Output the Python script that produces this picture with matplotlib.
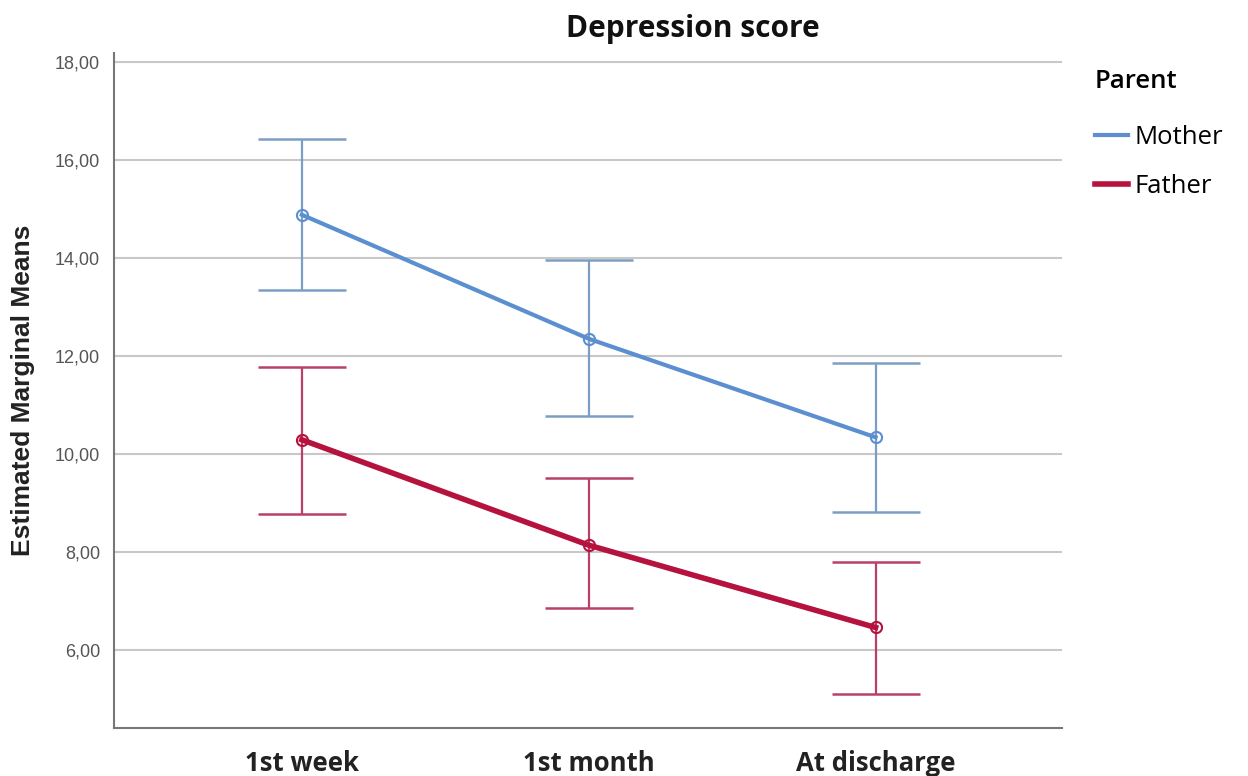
import matplotlib
matplotlib.use("Agg")
import matplotlib.pyplot as plt
import numpy as np
from matplotlib.lines import Line2D

categories = ["1st week", "1st month", "At discharge"]
mother_mean = [14.88, 12.35, 10.34]
mother_low = [13.35, 10.77, 8.82]
mother_high = [16.43, 13.96, 11.86]
father_mean = [10.29, 8.14, 6.46]
father_low = [8.78, 6.85, 5.10]
father_high = [11.78, 9.50, 7.80]
yticks = [6, 8, 10, 12, 14, 16, 18]

fig = plt.figure(figsize=(12.48, 7.76), dpi=100)
ax = fig.add_axes([0.0913, 0.0619, 0.7597, 0.8698])

x = np.arange(len(categories))

mother_line = "#5b8fd0"
mother_err = "#7d9ec4"
father_line = "#b5123e"
father_err = "#b8406a"

for mean, lo, hi, lc, ec, lw in [
    (mother_mean, mother_low, mother_high, mother_line, mother_err, 3.0),
    (father_mean, father_low, father_high, father_line, father_err, 4.0),
]:
    mean = np.array(mean); lo = np.array(lo); hi = np.array(hi)
    ax.errorbar(x, mean, yerr=[mean - lo, hi - mean], fmt="none", ecolor=ec,
                elinewidth=1.6, capsize=32, capthick=1.8, zorder=3)
    ax.plot(x, mean, color=lc, lw=lw, zorder=4, marker="o", markersize=8,
            markerfacecolor="none", markeredgecolor=lc, markeredgewidth=1.5)

ax.set_xlim(-0.655, 2.65)
ax.set_ylim(4.41, 18.18)
ax.set_yticks(yticks)
ax.set_yticklabels([f"{v:.2f}".replace(".", ",") for v in yticks],
                   fontsize=13, color="#555555", family="Liberation Sans")
ax.set_xticks(x)
ax.set_xticklabels(categories, fontsize=18.5, fontweight="bold", family="Open Sans", color="#222222")
ax.tick_params(axis="x", length=0, pad=16)
ax.tick_params(axis="y", length=0, pad=10)

ax.grid(axis="y", color="#c8c8c8", lw=1.5, zorder=0)
ax.set_axisbelow(True)
for s in ["top", "right"]:
    ax.spines[s].set_visible(False)
for s in ["left", "bottom"]:
    ax.spines[s].set_color("#777777")
    ax.spines[s].set_linewidth(1.5)

ax.set_ylabel("Estimated Marginal Means", fontsize=19, fontweight="bold",
              family="Liberation Sans", color="#222222", labelpad=14)

fig.text(0.555, 0.963, "Depression score", ha="center", va="center",
         fontsize=21.5, fontweight="bold", family="Open Sans", color="#111111")

handles = [Line2D([0], [0], color=mother_line, lw=3),
           Line2D([0], [0], color=father_line, lw=4)]
leg = fig.legend(handles, ["Mother", "Father"], loc="upper left",
                 bbox_to_anchor=(0.867, 0.927), frameon=False, borderpad=0,
                 title="Parent", handlelength=1.3, handletextpad=0.25,
                 labelspacing=0.95, prop={"family": "Open Sans", "size": 18.5})
leg.get_title().set_fontsize(18.5)
leg.get_title().set_family("Open Sans")
leg.get_title().set_fontweight("semibold")
leg._legend_box.align = "left"
leg._legend_box.sep = 22

fig.savefig("out.png", dpi=100, facecolor="white")
